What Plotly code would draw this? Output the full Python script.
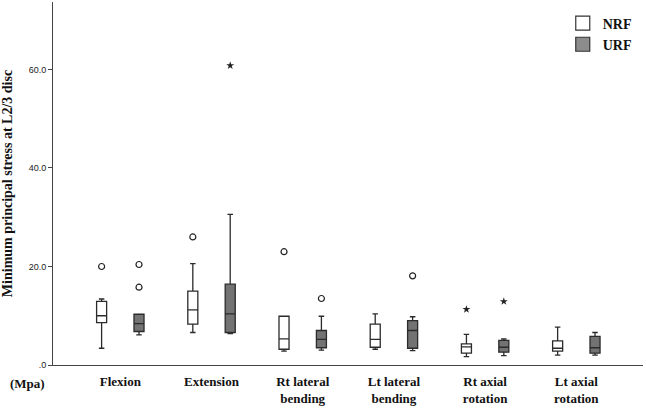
import plotly.graph_objects as go

categories = ["Flexion", "Extension", "Rt lateral<br>bending", "Lt lateral<br>bending",
              "Rt axial<br>rotation", "Lt axial<br>rotation"]

nrf_low = [3.4, 6.6, 2.8, 3.2, 1.7, 2.0]
nrf_q1 = [8.6, 8.3, 3.2, 3.6, 2.4, 2.8]
nrf_med = [10.0, 11.2, 5.3, 5.2, 3.7, 3.4]
nrf_q3 = [12.9, 15.0, 9.9, 8.3, 4.3, 4.9]
nrf_high = [13.4, 20.6, 9.9, 10.4, 6.2, 7.7]

urf_low = [6.1, 6.4, 3.0, 2.9, 1.9, 2.0]
urf_q1 = [6.8, 6.6, 3.5, 3.4, 2.6, 2.4]
urf_med = [8.4, 10.4, 5.2, 7.0, 3.6, 3.5]
urf_q3 = [10.3, 16.4, 7.0, 9.0, 5.0, 5.8]
urf_high = [10.3, 30.6, 9.9, 9.8, 5.3, 6.6]

# outliers: (category index, value)
nrf_circle_cat = [0, 1, 2]
nrf_circle_val = [20.0, 26.0, 23.0]
nrf_star_cat = [4]
nrf_star_val = [11.3]
urf_circle_cat = [0, 0, 2, 3]
urf_circle_val = [20.4, 15.8, 13.5, 18.1]
urf_star_cat = [1, 4]
urf_star_val = [60.8, 12.9]

OFF = 0.205
BW = 0.11
LINE = "#2b2b2b"
SERIF = "Liberation Serif"

idx = list(range(len(categories)))
fig = go.Figure()

def add_box(name, offset, low, q1, med, q3, high, fill):
    fig.add_trace(go.Box(
        name="<b>" + name + "</b>",
        x=[i + offset for i in idx],
        lowerfence=low, q1=q1, median=med, q3=q3, upperfence=high,
        width=BW, whiskerwidth=0.55,
        fillcolor=fill, line=dict(color=LINE, width=1.3),
        boxpoints=False, showlegend=False,
    ))

add_box("NRF", -OFF, nrf_low, nrf_q1, nrf_med, nrf_q3, nrf_high, "white")
add_box("URF", OFF, urf_low, urf_q1, urf_med, urf_q3, urf_high, "#737373")

# legend entries as square swatches
for name, fill in [("NRF", "white"), ("URF", "#8c8c8c")]:
    fig.add_trace(go.Scatter(
        x=[None], y=[None], mode="markers", name="<b>" + name + "</b>",
        marker=dict(symbol="square", size=14, color=fill,
                    line=dict(color="#333333", width=1.2)),
        showlegend=True))

def add_pts(cats, vals, offset, symbol, size, lw):
    fig.add_trace(go.Scatter(
        x=[c + offset for c in cats], y=vals, mode="markers",
        marker=dict(symbol=symbol, size=size, color="#222222",
                    line=dict(color="#222222", width=lw)),
        showlegend=False, hoverinfo="skip"))

add_pts(nrf_circle_cat, nrf_circle_val, -OFF, "circle-open", 6, 1.2)
add_pts(urf_circle_cat, urf_circle_val, OFF, "circle-open", 6, 1.2)
add_pts(nrf_star_cat, nrf_star_val, -OFF, "star", 6, 0)
add_pts(urf_star_cat, urf_star_val, OFF, "star", 6, 0)

fig.update_layout(
    width=646, height=408,
    margin=dict(l=53, r=3, t=2, b=43),
    paper_bgcolor="white", plot_bgcolor="white",
    showlegend=True,
    legend=dict(x=0.864, y=0.985, xanchor="left", yanchor="top",
                font=dict(family=SERIF, size=14, color="#111111"),
                bgcolor="rgba(0,0,0,0)", itemwidth=30, tracegroupgap=2),
    xaxis=dict(range=[-0.738, 5.731], tickmode="array", tickvals=idx,
               ticktext=["<b>" + c.replace("<br>", "</b><br><b>") + "</b>" for c in categories],
               showline=True, linecolor="#444444", linewidth=1, ticks="",
               showgrid=False, zeroline=False, ticklabelstandoff=4, automargin=False,
               tickfont=dict(family=SERIF, size=13, color="#111111")),
    yaxis=dict(range=[0, 73.7], tickmode="array", tickvals=[0, 20, 40, 60],
               ticktext=[".0", "20.0", "40.0", "60.0"],
               showline=True, linecolor="#444444", linewidth=1,
               ticks="outside", ticklen=4, tickcolor="#444444",
               showgrid=False, zeroline=False, automargin=False,
               tickfont=dict(family="Liberation Sans", size=9, color="#222222"),
               title=dict(text="<b>Minimum principal stress at L2/3 disc</b>",
                          font=dict(family=SERIF, size=14, color="#111111"),
                          standoff=12)),
    annotations=[dict(text="<b>(Mpa)</b>", x=-0.044, y=-0.05, xref="paper", yref="paper",
                      xanchor="center", yanchor="middle", showarrow=False,
                      font=dict(family=SERIF, size=13, color="#111111"))],
)

fig.write_html("out.html")
